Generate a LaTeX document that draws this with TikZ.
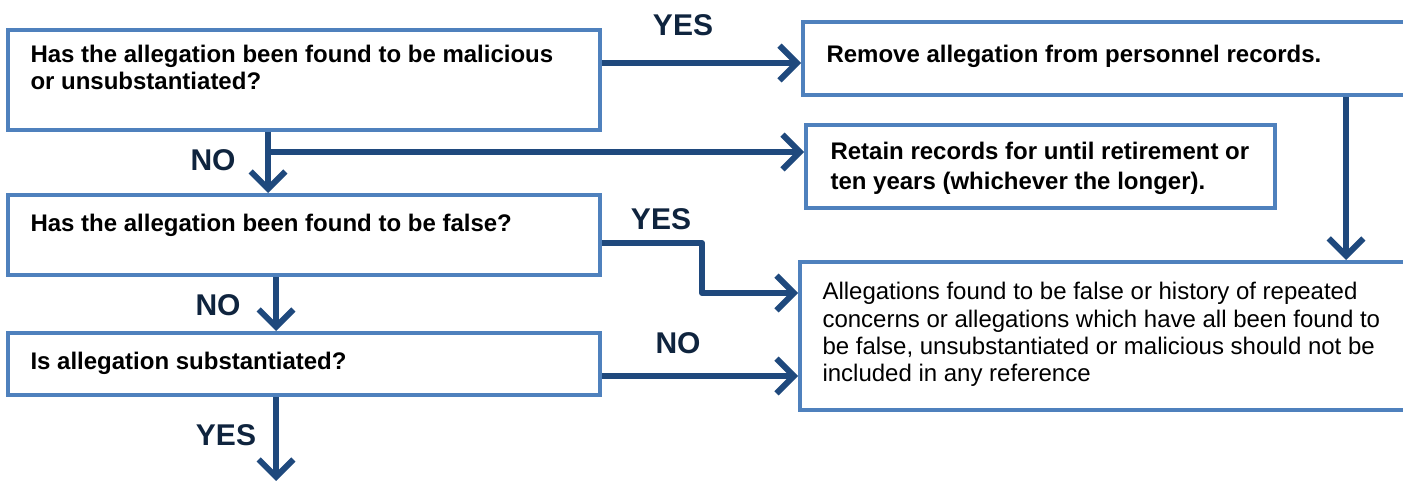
\documentclass[tikz,border=0pt]{standalone}
\usepackage{fontspec}
\setmainfont{Liberation Sans}
\usetikzlibrary{arrows.meta,fit}

\definecolor{boxblue}{RGB}{79,129,189}
\definecolor{arrowblue}{RGB}{31,73,125}
\definecolor{labelnavy}{RGB}{15,36,62}

\tikzset{
	flowbox/.style={draw=boxblue, line width=3pt, inner sep=0pt, fill=white},
	flowtext/.style={anchor=north west, inner sep=0pt, align=left, font=\bfseries\fontsize{18}{20.25}\selectfont},
	plaintext/.style={flowtext, font=\mdseries\fontsize{18}{20.5}\selectfont},
	flowarrow/.style={draw=arrowblue, line width=4.5pt, line join=round, -{Straight Barb[length=13pt,width=26pt]}},
	answer/.style={text=labelnavy, inner sep=0pt, font=\bfseries\fontsize{22.5}{24}\selectfont}}
\tikzset{every picture/.style={line width=0.75pt}}

\begin{document}
\begin{tikzpicture}[x=0.75pt,y=0.75pt,yscale=-1,xscale=1]
	\useasboundingbox (0,0) rectangle (1403,481);
	\clip (0,0) rectangle (1403,481);
	
	%Shape: Rectangle [id:boxA] 
	\node [flowbox, fit={(8,30) (600,130)}] (boxA) {};
	%Shape: Rectangle [id:boxB] 
	\node [flowbox, fit={(803,22) (1425,95)}] (boxB) {};
	%Shape: Rectangle [id:boxC] 
	\node [flowbox, fit={(806,125) (1275,208)}] (boxC) {};
	%Shape: Rectangle [id:boxD] 
	\node [flowbox, fit={(8,195) (600,275)}] (boxD) {};
	%Shape: Rectangle [id:boxE] 
	\node [flowbox, fit={(800,262) (1425,410)}] (boxE) {};
	%Shape: Rectangle [id:boxF] 
	\node [flowbox, fit={(8,333) (600,395)}] (boxF) {};
	
	% Text Node
	\node [flowtext] (txtA) at (30,45) {Has the allegation been found to be malicious\\or unsubstantiated?};
	% Text Node
	\node [flowtext] (txtB) at (826,45) {Remove allegation from personnel records.};
	% Text Node
	\node [flowtext, font=\bfseries\fontsize{18}{22.5}\selectfont] (txtC) at (830,142) {Retain records for until retirement or\\ten years (whichever the longer).};
	% Text Node
	\node [flowtext] (txtD) at (30,214) {Has the allegation been found to be false?};
	% Text Node
	\node [plaintext] (txtE) at (822,282) {Allegations found to be false or history of repeated\\concerns or allegations which have all been found to\\be false, unsubstantiated or malicious should not be\\included in any reference};
	% Text Node
	\node [flowtext] (txtF) at (30,352) {Is allegation substantiated?};
	
	%Straight Lines [id:arrows] 
	\coordinate (aYes) at ([shift={(0,35)}]boxA.north east);
	\coordinate (aNo) at ([shift={(262,0)}]boxA.south west);
	\coordinate (aBranch) at ([shift={(0,20)}]aNo);
	\coordinate (bDown) at ([shift={(545,0)}]boxB.south west);
	\coordinate (dYes) at ([shift={(0,50)}]boxD.north east);
	\coordinate (eIn) at ([shift={(0,33)}]boxE.north west);
	\coordinate (dNo) at ([shift={(270,0)}]boxD.south west);
	\coordinate (fNo) at ([shift={(0,45)}]boxF.north east);
	\coordinate (fYes) at ([shift={(270,0)}]boxF.south west);
	\coordinate (fEnd) at (0,481);
	\draw [flowarrow] (aYes) -- (aYes -| boxB.west);
	\draw [flowarrow] (aNo) -- (aNo |- boxD.north);
	\draw [flowarrow] (aBranch) -- (aBranch -| boxC.west);
	\draw [flowarrow] (bDown) -- (bDown |- boxE.north);
	\draw [flowarrow] (dYes) -- ++(100,0) |- (eIn);
	\draw [flowarrow] (dNo) -- (dNo |- boxF.north);
	\draw [flowarrow] (fNo) -- (fNo -| boxE.west);
	\draw [flowarrow] (fYes) -- (fYes |- fEnd);
	
	% Text Node
	\node [answer] (yesA) at (683,25) {YES};
	% Text Node
	\node [answer] (noA) at (213,160) {NO};
	% Text Node
	\node [answer] (yesD) at (661,219) {YES};
	% Text Node
	\node [answer] (noD) at (218,305) {NO};
	% Text Node
	\node [answer] (noF) at (678,343) {NO};
	% Text Node
	\node [answer] (yesF) at (226,435) {YES};
	
\end{tikzpicture}
\end{document}
